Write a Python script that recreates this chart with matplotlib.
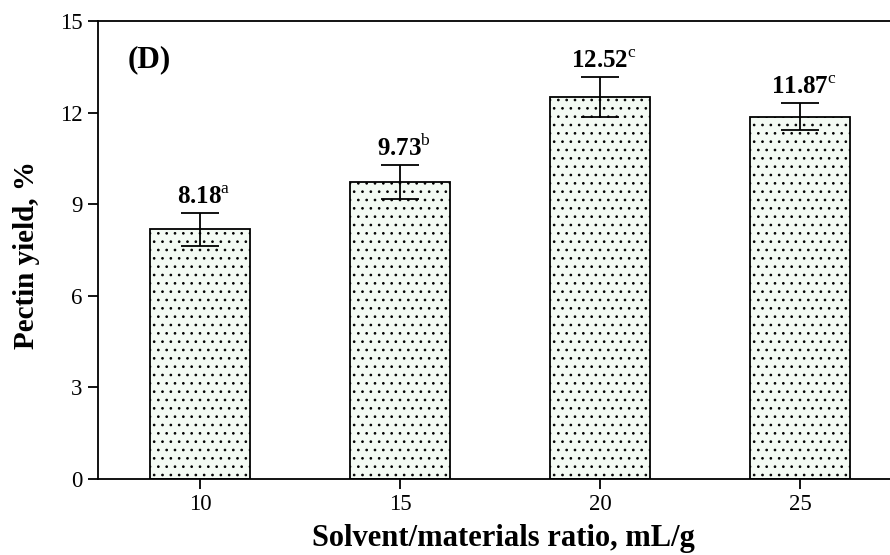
import numpy as np
import matplotlib.pyplot as plt

plt.rcParams["font.family"] = "Liberation Serif"
plt.rcParams["mathtext.fontset"] = "custom"
plt.rcParams["mathtext.rm"] = "Liberation Serif"
plt.rcParams["mathtext.bf"] = "Liberation Serif:bold"
plt.rcParams["hatch.linewidth"] = 0.7

ratios = ["10", "15", "20", "25"]
yields = [8.18, 9.73, 12.52, 11.87]
errors = [0.54, 0.56, 0.65, 0.44]
letters = ["a", "b", "c", "c"]

fig = plt.figure(figsize=(8.9, 5.55), dpi=100)
ax = fig.add_axes([98 / 890, 76 / 555, 810 / 890, 458 / 555])

x = np.arange(len(ratios))
ax.bar(x, yields, width=0.5, color="#f3faf3", edgecolor="black",
       linewidth=1.3, hatch="..", zorder=2)
ax.errorbar(x, yields, yerr=errors, fmt="none", ecolor="black",
            elinewidth=1.3, capsize=14, capthick=1.3, zorder=3)

for xi, val, err, let in zip(x, yields, errors, letters):
    ax.annotate(r"$\mathbf{%.2f}^{\mathrm{%s}}$" % (val, let),
                (xi, val + err), xytext=(3, 3), textcoords="offset points",
                ha="center", va="bottom", fontsize=18)

ax.text(0.037, 0.915, "(D)", transform=ax.transAxes, fontsize=22.5,
        fontweight="bold", ha="left", va="center")

ax.set_xlim(-0.51, 3.54)
ax.set_ylim(0, 15)
ax.set_xticks(x)
ax.set_xticklabels(ratios)
ax.set_yticks([0, 3, 6, 9, 12, 15])
ax.tick_params(direction="out", length=7, width=1.3, labelsize=16.5, pad=4)
ax.spines["right"].set_visible(False)
for s in ["left", "bottom", "top"]:
    ax.spines[s].set_linewidth(1.3)

ax.set_xlabel("Solvent/materials ratio, mL/g", fontsize=22,
              fontweight="bold")
ax.xaxis.set_label_coords(0.5, -0.098)
ax.set_ylabel("Pectin yield, %", fontsize=21, fontweight="bold")
ax.yaxis.set_label_coords(-0.071, 0.49)

fig.savefig("out.png", dpi=100)
